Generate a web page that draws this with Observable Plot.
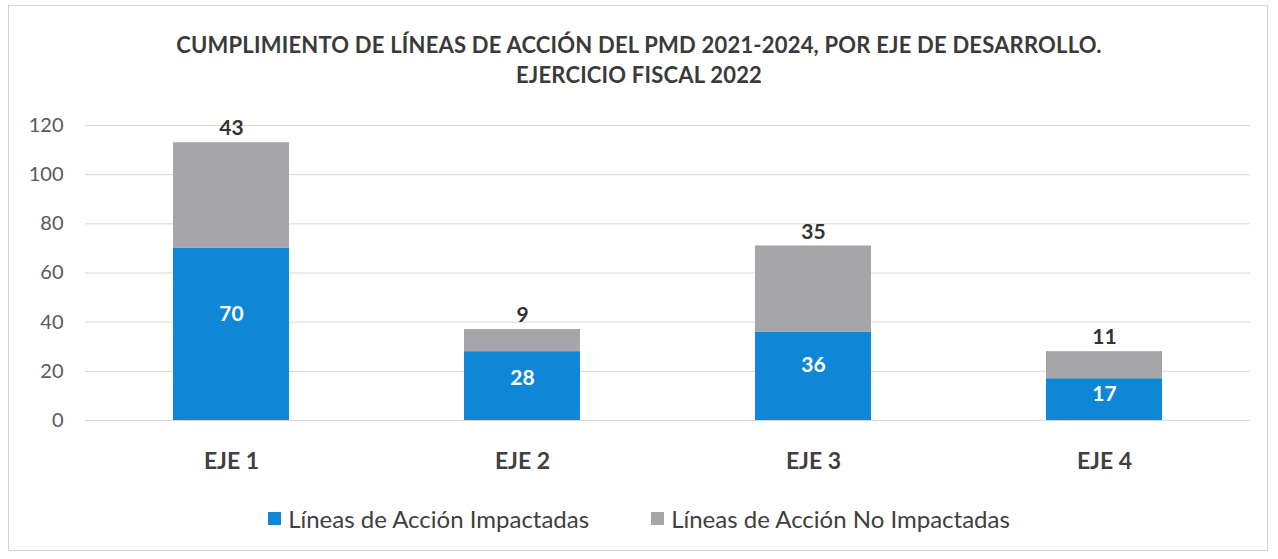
<!DOCTYPE html>
<html>
<head>
<meta charset="utf-8">
<script src="https://cdn.jsdelivr.net/npm/d3@7"></script>
<script src="https://cdn.jsdelivr.net/npm/@observablehq/plot@0.6"></script>
<style>
  html, body { margin: 0; padding: 0; background: #fff; }
  #wrap { position: relative; width: 1278px; height: 559px; overflow: hidden; font-family: Lato, "Open Sans", sans-serif; }
  #frame { position: absolute; left: 8px; top: 5px; width: 1260px; height: 546px; border: 1px solid #d4d4d4; box-sizing: border-box; pointer-events: none; }
  #title { position: absolute; left: 0; top: 30px; width: 1278px; text-align: center; font-weight: bold; font-size: 22px; line-height: 30px; color: #3a3a3a; letter-spacing: 0.2px; }
  #chart { position: absolute; left: 0; top: 105px; }
  #legend { position: absolute; left: 0; top: 504px; width: 1278px; display: flex; justify-content: center; gap: 62px; font-size: 24px; color: #404040; }
  .item { display: flex; align-items: center; gap: 7px; }
  .sw { width: 13px; height: 13px; display: inline-block; }
</style>
</head>
<body>
<div id="wrap">
  <div id="frame"></div>
  <div id="title">CUMPLIMIENTO DE LÍNEAS DE ACCIÓN DEL PMD 2021-2024, POR EJE DE DESARROLLO.<br>EJERCICIO FISCAL 2022</div>
  <div id="chart"></div>
  <div id="legend"></div>
</div>
<script>
const ejes = ["EJE 1", "EJE 2", "EJE 3", "EJE 4"];
const impactadas = [70, 28, 36, 17];
const noImpactadas = [43, 9, 35, 11];
const series = ["Líneas de Acción Impactadas", "Líneas de Acción No Impactadas"];
const colors = ["#0f87d6", "#a6a6a8"];
const yTicks = [0, 20, 40, 60, 80, 100, 120];

const rows = [];
ejes.forEach((e, i) => {
  rows.push({eje: e, serie: series[0], value: impactadas[i]});
  rows.push({eje: e, serie: series[1], value: noImpactadas[i]});
});
const totals = ejes.map((e, i) => ({eje: e, total: impactadas[i] + noImpactadas[i], label: noImpactadas[i]}));
const blue = ejes.map((e, i) => ({eje: e, value: impactadas[i]}));

const chart = Plot.plot({
  width: 1278,
  height: 385,
  marginLeft: 85,
  marginRight: 28,
  marginTop: 20,
  marginBottom: 70,
  style: {fontFamily: "Lato, 'Open Sans', sans-serif", background: "transparent"},
  x: {domain: ejes, paddingInner: 0.6, paddingOuter: 0.3, label: null, tickSize: 0, tickPadding: 32},
  y: {domain: [0, 120], ticks: yTicks, label: null, tickSize: 0, tickPadding: 22},
  color: {domain: series, range: colors},
  marks: [
    Plot.gridY(yTicks, {stroke: "#d9d9d9", strokeOpacity: 1, strokeWidth: 1}),
    Plot.barY(rows, {x: "eje", y: "value", fill: "serie", order: series}),
    Plot.text(blue, {x: "eje", y: d => d.value * 0.62, text: d => String(d.value), fill: "white", fontWeight: "bold", fontSize: 21}),
    Plot.text(totals, {x: "eje", y: "total", text: d => String(d.label), fill: "#333", fontWeight: "bold", fontSize: 21, dy: -14}),
    Plot.axisY({ticks: yTicks, tickSize: 0, tickPadding: 22, fontSize: 20, fill: "#595959", label: null}),
    Plot.axisX({tickSize: 0, tickPadding: 32, fontSize: 23, fontWeight: "bold", fill: "#404040", label: null})
  ]
});
document.getElementById("chart").appendChild(chart);

const legend = document.getElementById("legend");
series.forEach((s, i) => {
  const it = document.createElement("div");
  it.className = "item";
  const sw = document.createElement("span");
  sw.className = "sw";
  sw.style.background = colors[i];
  const t = document.createElement("span");
  t.textContent = s;
  it.appendChild(sw);
  it.appendChild(t);
  legend.appendChild(it);
});
</script>
</body>
</html>
